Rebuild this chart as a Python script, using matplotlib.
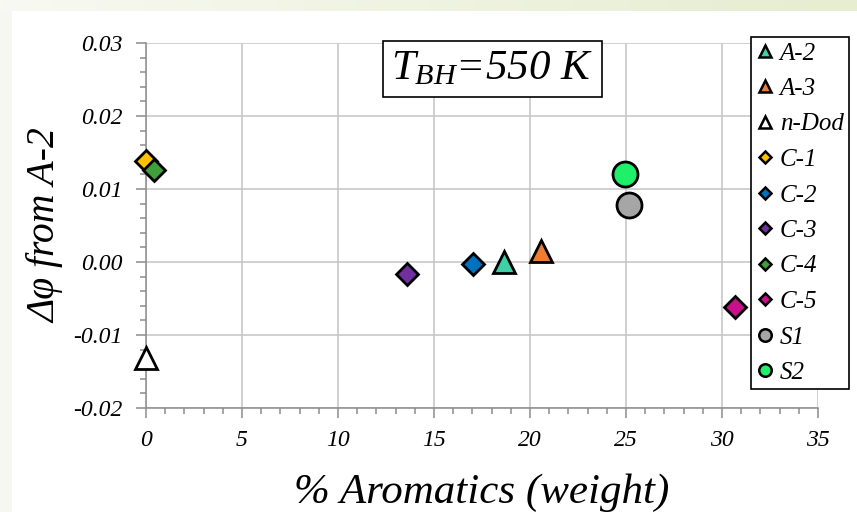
import numpy as np
import matplotlib.pyplot as plt
from matplotlib.colors import LinearSegmentedColormap
from matplotlib.lines import Line2D
from matplotlib.ticker import MultipleLocator, FormatStrFormatter

# samples: % aromatics (weight) vs. delta phi relative to A-2
names = ['A-2', 'A-3', 'n-Dod', 'C-1', 'C-2', 'C-3', 'C-4', 'C-5', 'S1', 'S2']
aromatics = [18.65, 20.55, 0.0, 0.0, 17.05, 13.6, 0.4, 30.7, 25.15, 24.95]
dphi = [0.0000, 0.0015, -0.0132, 0.0139, -0.0003, -0.0017, 0.0126, -0.0062, 0.0078, 0.0121]
markers = ['^', '^', '^', 'D', 'D', 'D', 'D', 'D', 'o', 'o']
colors = ['#40D0A8', '#ED7D31', '#FFFFFF', '#FFC000', '#0070C0', '#7030A0',
          '#3F9F3A', '#C8108C', '#A6A6A6', '#1EF06A']

plot_size = {'^': 15.5, 'D': 11.5, 'o': 18}
legend_size = {'^': 8.5, 'D': 6.5, 'o': 9}

plt.rcParams['font.family'] = ['Liberation Serif', 'DejaVu Serif']
plt.rcParams['mathtext.fontset'] = 'custom'
plt.rcParams['mathtext.it'] = 'Liberation Serif:italic'
plt.rcParams['mathtext.rm'] = 'Liberation Serif'

fig = plt.figure(figsize=(8.57, 5.12), dpi=100)
fig.patch.set_facecolor('white')

# pale slide backdrop along the top and left edges
bg = fig.add_axes([0, 0, 1, 1], zorder=-10)
bg.set_axis_off()
grad = np.linspace(0, 1, 256).reshape(1, -1)
bg.imshow(grad, extent=[0, 1, 0.978, 1], aspect='auto',
          cmap=LinearSegmentedColormap.from_list('g', ['#f8f9f2', '#e6edd0']))
bg.add_patch(plt.Rectangle((0, 0), 0.014, 0.978, color='#f6f7f1', lw=0))
bg.set_xlim(0, 1)
bg.set_ylim(0, 1)

ax = fig.add_axes([146 / 857, 104 / 512, 672 / 857, 365 / 512])
ax.set_facecolor('white')

for x, y, m, c in zip(aromatics, dphi, markers, colors):
    ax.plot(x, y, marker=m, color=c, markersize=plot_size[m], markeredgecolor='black',
            markeredgewidth=2, linestyle='none', zorder=3, clip_on=False)

ax.set_xlim(0, 35)
ax.set_ylim(-0.02, 0.03)
ax.xaxis.set_major_locator(MultipleLocator(5))
ax.xaxis.set_minor_locator(MultipleLocator(1))
ax.yaxis.set_major_locator(MultipleLocator(0.01))
ax.yaxis.set_minor_locator(MultipleLocator(0.002))
ax.yaxis.set_major_formatter(FormatStrFormatter('%.2f'))
ax.grid(True, which='major', color='#c4c4c4', linewidth=1.1)
ax.set_axisbelow(True)

for s in ['top', 'right']:
    ax.spines[s].set_visible(False)
for s in ['left', 'bottom']:
    ax.spines[s].set_color('#8c8c8c')
    ax.spines[s].set_linewidth(1.1)

ax.tick_params(which='both', color='#8c8c8c', width=1.1, direction='out')
ax.tick_params(which='major', length=7)
ax.tick_params(which='minor', length=4.5)
ax.tick_params(axis='both', labelsize=17)
ax.tick_params(axis='x', pad=9)
ax.tick_params(axis='y', pad=10)
for lbl in ax.get_xticklabels() + ax.get_yticklabels():
    lbl.set_fontstyle('italic')

ax.set_xlabel('% Aromatics (weight)', fontsize=31, fontstyle='italic', labelpad=16)
ax.set_ylabel('Δφ from A-2', fontsize=28.5, fontstyle='italic', labelpad=6)

ax.text(0.515, 0.929, r'$T_{BH}$=550 K', transform=ax.transAxes, fontsize=31,
        fontstyle='italic', ha='center', va='center',
        bbox=dict(boxstyle='square,pad=0.2', facecolor='white', edgecolor='black', linewidth=1.2))

handles = [Line2D([], [], marker=m, color=c, markersize=legend_size[m], markeredgecolor='black',
                  markeredgewidth=1.8, linestyle='none')
           for m, c in zip(markers, colors)]
leg = fig.legend(handles, names, loc='upper left', bbox_to_anchor=(751 / 857, 1 - 37 / 512),
                 frameon=True, fancybox=False, edgecolor='black', framealpha=1,
                 prop={'family': 'Liberation Serif', 'style': 'italic', 'size': 18},
                 handlelength=0.7, handletextpad=0.25, labelspacing=0.52,
                 borderpad=0.2, borderaxespad=0)
leg.get_frame().set_linewidth(1.2)

fig.savefig('out.png', dpi=100)
